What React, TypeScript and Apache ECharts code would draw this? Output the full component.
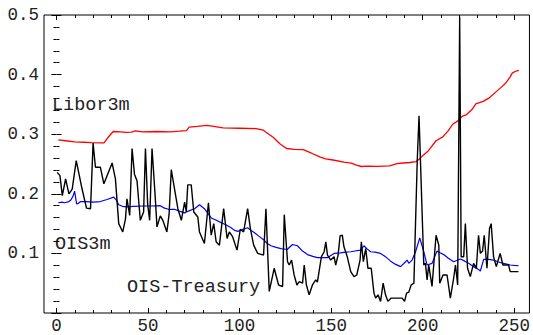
import React, { useEffect, useRef } from "react";
import * as echarts from "echarts";

const X_MIN = -6.8;
const X_MAX = 258.3;
const xMajorTicks = [0, 50, 100, 150, 200, 250];
const xMinorTicks = [10, 20, 30, 40, 60, 70, 80, 90, 110, 120, 130, 140, 160, 170, 180, 190, 210, 220, 230, 240];

const libor3m: [number, number][] = [
  [1, 0.2905], [5, 0.289], [10, 0.287], [15, 0.2865], [19, 0.286], [24, 0.2855], [26, 0.2855], [28, 0.294],
  [31, 0.3045], [35, 0.304], [38, 0.303], [41, 0.3035], [43, 0.3055], [47, 0.304], [55, 0.3045], [62, 0.304],
  [67, 0.305], [71, 0.306], [72.5, 0.312], [77, 0.313], [82, 0.3148], [86, 0.313], [91, 0.3105], [100, 0.31],
  [109, 0.3095], [113, 0.3067], [116, 0.3], [118.5, 0.2945], [122, 0.284], [125.6, 0.276], [130, 0.2745],
  [134.7, 0.274], [139, 0.2685], [143.8, 0.262], [147, 0.2585], [151, 0.2567], [157, 0.253], [161, 0.2515],
  [163.8, 0.248], [166.5, 0.2458], [170, 0.2465], [175, 0.246], [181.9, 0.247], [186, 0.2505], [189.2, 0.2517],
  [193, 0.2525], [196.4, 0.254], [198, 0.258], [200, 0.264], [203, 0.272], [207.3, 0.289], [211, 0.2955],
  [214, 0.306], [216.4, 0.3167], [219, 0.322], [221.8, 0.3305], [224, 0.333], [227.3, 0.3428], [229, 0.351],
  [233, 0.355], [236.4, 0.361], [240, 0.371], [243, 0.379], [245.4, 0.386], [247.5, 0.395], [249, 0.403],
  [251, 0.406], [252.5, 0.407],
];

const ois3m: [number, number][] = [
  [1, 0.185], [3, 0.186], [4.5, 0.185], [6.8, 0.187], [8, 0.19], [9.2, 0.197], [9.9, 0.2045], [11, 0.183],
  [12, 0.184], [13.2, 0.187], [16, 0.187], [20, 0.186], [24, 0.187], [27.6, 0.1905], [31.3, 0.1945],
  [32.8, 0.189], [34, 0.1817], [36, 0.179], [38.5, 0.178], [42, 0.179], [47.6, 0.1795], [52, 0.1795],
  [56.7, 0.18], [59, 0.176], [61.2, 0.174], [64.5, 0.174], [67, 0.171], [70, 0.168], [72, 0.171], [75.4, 0.175],
  [78.1, 0.1817], [80.8, 0.175], [82.5, 0.168], [84.5, 0.1595], [87, 0.156], [89.9, 0.1517], [92.5, 0.148],
  [95.4, 0.143], [97, 0.139], [99, 0.137], [101.5, 0.14], [104.4, 0.143], [106, 0.139], [108, 0.135],
  [110.5, 0.129], [113.5, 0.122], [115, 0.117], [117.1, 0.1128], [120, 0.11], [122.6, 0.108], [126, 0.1065],
  [128.9, 0.115], [131.6, 0.1128], [134, 0.105], [137.1, 0.098], [140, 0.095], [142.5, 0.0928], [145, 0.093],
  [148, 0.0928], [151.6, 0.1], [155, 0.101], [158, 0.102], [160.7, 0.1028], [163, 0.104], [166.1, 0.1055],
  [167.9, 0.1128], [169.5, 0.108], [171.6, 0.1028], [174, 0.102], [177, 0.1], [179.5, 0.095], [182.5, 0.087],
  [185, 0.082], [187.9, 0.0778], [189.7, 0.083], [191.5, 0.0888], [192.4, 0.0833], [194.2, 0.0888],
  [196.1, 0.1028], [198.4, 0.126], [200.6, 0.1028], [202.4, 0.0805], [205.1, 0.0833], [207.8, 0.1038],
  [209.5, 0.101], [211.5, 0.098], [214, 0.092], [216.9, 0.086], [220.6, 0.0905], [223, 0.087], [225.1, 0.0833],
  [227.8, 0.0778], [230, 0.074], [231.5, 0.0705], [233.3, 0.09], [236, 0.09], [238.7, 0.0888], [241, 0.086],
  [244.1, 0.0833], [247.8, 0.0805], [250, 0.0798], [252.3, 0.0795],
];

const oisTreasury: [number, number][] = [
  [0.4, 0.236], [1.9, 0.2305], [3.2, 0.197], [5, 0.225], [6.8, 0.2], [8.6, 0.208], [10.8, 0.2555], [14, 0.208],
  [16.4, 0.176], [18.6, 0.175], [20, 0.285], [21.3, 0.2445], [24, 0.2445], [25.9, 0.2167], [30.4, 0.2517],
  [32.2, 0.225], [34, 0.15], [36.2, 0.136], [37.7, 0.158], [38.5, 0.1917], [40, 0.1638], [41.3, 0.276],
  [42.6, 0.233], [44, 0.222], [45.8, 0.1555], [47.6, 0.1695], [48.6, 0.276], [49.8, 0.183], [50.9, 0.1555],
  [52.2, 0.276], [54, 0.1917], [54.9, 0.1445], [56.7, 0.163], [58.1, 0.1555], [60.3, 0.136], [61.5, 0.165],
  [62.7, 0.2405], [64.5, 0.208], [66.3, 0.175], [68.2, 0.1555], [70, 0.186], [70.9, 0.1695], [71.7, 0.215],
  [73.6, 0.215], [75, 0.1695], [77.2, 0.161], [78.1, 0.136], [80.8, 0.1167], [83, 0.185], [84.5, 0.1305],
  [85.9, 0.15], [87.2, 0.1195], [89, 0.1138], [91.3, 0.175], [93.2, 0.125], [94.4, 0.136], [96.2, 0.128],
  [98.6, 0.1055], [100.4, 0.1405], [102.2, 0.136], [104.4, 0.175], [105.9, 0.1417], [107.7, 0.1138],
  [109.9, 0.1], [113.1, 0.0972], [114.4, 0.175], [116.2, 0.0362], [118.9, 0.075], [121.3, 0.047],
  [123.5, 0.0445], [124.4, 0.165], [125.3, 0.125], [126.2, 0.086], [127.1, 0.0805], [128.4, 0.0888],
  [129.8, 0.0638], [131.3, 0.047], [132.6, 0.0528], [134.4, 0.05], [135.3, 0.0805], [136.5, 0.047],
  [138, 0.0305], [139.8, 0.047], [141.6, 0.0555], [142.5, 0.0517], [143.4, 0.0695], [144.7, 0.0945],
  [146.2, 0.1028], [147.1, 0.1195], [148, 0.0972], [149.8, 0.0888], [151.6, 0.0945], [152.5, 0.0805],
  [153.8, 0.0972], [154.9, 0.1295], [156.1, 0.1305], [157, 0.111], [158.8, 0.0945], [160.7, 0.0695],
  [162.5, 0.061], [164, 0.0638], [165.8, 0.0888], [166.5, 0.1195], [167.6, 0.086], [168.9, 0.1083],
  [170.1, 0.075], [171.9, 0.075], [173.4, 0.0333], [174.3, 0.025], [175.6, 0.0305], [177, 0.0195],
  [178.4, 0.05], [179.7, 0.0305], [181, 0.0195], [182.8, 0.025], [186.1, 0.025], [188.8, 0.025],
  [190.1, 0.0195], [191.2, 0.0333], [192.4, 0.035], [193.7, 0.047], [195.2, 0.05], [197, 0.2528],
  [198, 0.331], [199.1, 0.225], [200.6, 0.0805], [201.5, 0.0833], [202.4, 0.0555], [203.3, 0.0805],
  [205.1, 0.0445], [207.3, 0.1305], [208.8, 0.1138], [209.3, 0.05], [211.1, 0.0638], [213.3, 0.0638],
  [215.1, 0.025], [216.9, 0.0583], [217.9, 0.0805], [219.1, 0.047], [220.2, 0.497], [221, 0.0945],
  [222.4, 0.0945], [223.3, 0.15], [224.5, 0.075], [226, 0.061], [227.8, 0.0833], [229.3, 0.075],
  [230.5, 0.1305], [231.5, 0.1], [232.7, 0.104], [233.6, 0.1305], [235.1, 0.075], [236.5, 0.1417],
  [237.4, 0.15], [238.7, 0.0945], [240.2, 0.0778], [242.3, 0.1], [243.8, 0.0805], [246.9, 0.0805],
  [247.8, 0.0695], [252.3, 0.0695],
];

const seriesNames = ["Libor3m", "OIS3m", "OIS-Treasury"];

const FONT = "'Liberation Mono', 'DejaVu Sans Mono', monospace";
const TEXT_COLOR = "#222";

export default function App() {
  const ref = useRef<HTMLDivElement>(null);
  useEffect(() => {
    document.body.style.margin = "0";
    if (!ref.current) return;
    const chart = echarts.init(ref.current, null, { renderer: "svg" });
    const tickStyle = { color: "#000", width: 1 };
    const xAxisBase = {
      type: "value" as const,
      min: X_MIN,
      max: X_MAX,
      axisLine: { show: false },
      splitLine: { show: false },
    };
    const yAxisBase = {
      type: "value" as const,
      min: 0,
      max: 0.5,
      interval: 0.1,
      axisLine: { show: false },
      splitLine: { show: false },
      axisTick: { show: true, inside: true, length: 5, lineStyle: tickStyle },
      minorTick: { show: true, splitNumber: 5, length: 3, lineStyle: tickStyle },
    };
    chart.setOption({
      animation: false,
      backgroundColor: "#fff",
      grid: {
        left: 44,
        top: 15,
        width: 487,
        height: 300,
        show: true,
        borderColor: "#000",
        borderWidth: 1,
        backgroundColor: "transparent",
      },
      xAxis: [
        {
          ...xAxisBase,
          position: "bottom",
          axisTick: { show: true, inside: true, length: 5, customValues: xMajorTicks, lineStyle: tickStyle },
          axisLabel: {
            show: true,
            customValues: xMajorTicks,
            margin: 4,
            fontFamily: FONT,
            fontSize: 17.5,
            color: TEXT_COLOR,
          },
        },
        {
          ...xAxisBase,
          position: "bottom",
          axisTick: { show: true, inside: true, length: 3, customValues: xMinorTicks, lineStyle: tickStyle },
          axisLabel: { show: false },
        },
        {
          ...xAxisBase,
          position: "top",
          axisTick: { show: true, inside: true, length: 5, customValues: xMajorTicks, lineStyle: tickStyle },
          axisLabel: { show: false },
        },
        {
          ...xAxisBase,
          position: "top",
          axisTick: { show: true, inside: true, length: 3, customValues: xMinorTicks, lineStyle: tickStyle },
          axisLabel: { show: false },
        },
      ],
      yAxis: [
        {
          ...yAxisBase,
          position: "left",
          axisLabel: {
            show: true,
            margin: 5,
            fontFamily: FONT,
            fontSize: 17.5,
            color: TEXT_COLOR,
            formatter: (v: number) => (v === 0 ? "" : v.toFixed(1)),
          },
        },
        {
          ...yAxisBase,
          position: "right",
          axisLabel: { show: false },
        },
      ],
      series: [
        {
          name: seriesNames[0],
          type: "line",
          data: libor3m,
          showSymbol: false,
          lineStyle: { color: "#ff0000", width: 1.3 },
          itemStyle: { color: "#ff0000" },
        },
        {
          name: seriesNames[1],
          type: "line",
          data: ois3m,
          showSymbol: false,
          lineStyle: { color: "#0000ff", width: 1.2 },
          itemStyle: { color: "#0000ff" },
        },
        {
          name: seriesNames[2],
          type: "line",
          data: oisTreasury,
          showSymbol: false,
          lineStyle: { color: "#000000", width: 1.4 },
          itemStyle: { color: "#000000" },
        },
      ],
      graphic: [
        { type: "text", left: 52, top: 96, style: { text: seriesNames[0], font: `18.5px ${FONT}`, fill: TEXT_COLOR } },
        { type: "text", left: 55, top: 235, style: { text: seriesNames[1], font: `18.5px ${FONT}`, fill: TEXT_COLOR } },
        { type: "text", left: 127, top: 278, style: { text: seriesNames[2], font: `18.5px ${FONT}`, fill: TEXT_COLOR } },
      ],
    });
    return () => chart.dispose();
  }, []);
  return <div ref={ref} style={{ width: 533, height: 335 }} />;
}
